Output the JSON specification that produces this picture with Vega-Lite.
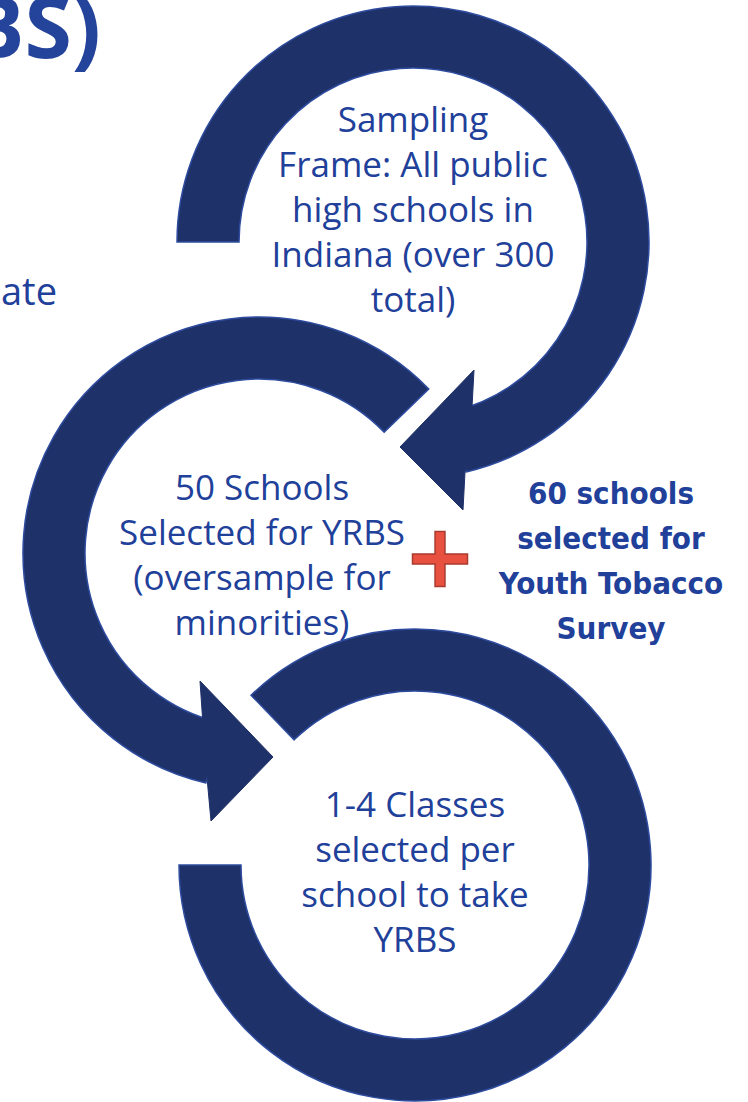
{
  "$schema": "https://vega.github.io/schema/vega-lite/v6.json",
  "width": 748,
  "height": 1102,
  "autosize": "none",
  "padding": 0,
  "background": "white",
  "config": {"view": {"stroke": null}},
  "datasets": {
    "rings": [
      {"ring": "top", "x": 413, "y": 242, "start": -90, "end": 167},
      {"ring": "middle", "x": 259, "y": 553, "start": 193, "end": 406},
      {"ring": "bottom", "x": 415, "y": 865, "start": -44, "end": 270}
    ],
    "heads": [
      {"arrow": "top", "i": 0, "x": 474, "y": 370},
      {"arrow": "top", "i": 1, "x": 400, "y": 447},
      {"arrow": "top", "i": 2, "x": 463, "y": 510},
      {"arrow": "top", "i": 3, "x": 465, "y": 472},
      {"arrow": "top", "i": 4, "x": 472, "y": 407},
      {"arrow": "top", "i": 5, "x": 474, "y": 370},
      {"arrow": "middle", "i": 0, "x": 200, "y": 681},
      {"arrow": "middle", "i": 1, "x": 273, "y": 757},
      {"arrow": "middle", "i": 2, "x": 211, "y": 821},
      {"arrow": "middle", "i": 3, "x": 207.5, "y": 783},
      {"arrow": "middle", "i": 4, "x": 202.5, "y": 717.5},
      {"arrow": "middle", "i": 5, "x": 200, "y": 681}
    ],
    "labels": [
      {"x": 413, "y": 132, "text": "Sampling\nFrame: All public\nhigh schools in\nIndiana (over 300\ntotal)"},
      {"x": 262, "y": 500, "text": "50 Schools\nSelected for YRBS\n(oversample for\nminorities)"},
      {"x": 415, "y": 817, "text": "1-4 Classes\nselected per\nschool to take\nYRBS"}
    ],
    "side": [
      {"x": 611, "y": 504, "text": "60 schools\nselected for\nYouth Tobacco\nSurvey"}
    ],
    "title": [{"x": 101, "y": 58, "text": "(YRBS)"}],
    "edge": [{"x": 57, "y": 305, "text": "ate"}],
    "plus": [{"x": 440, "y": 559, "sign": "plus"}]
  },
  "encoding": {
    "x": {"field": "x", "type": "quantitative", "axis": null, "scale": {"domain": [0, 748], "nice": false, "zero": false}},
    "y": {"field": "y", "type": "quantitative", "axis": null, "scale": {"domain": [0, 1102], "nice": false, "zero": false, "reverse": true}}
  },
  "layer": [
    {
      "data": {"name": "rings"},
      "mark": {"type": "arc", "radius": 236, "radius2": 174, "fill": "#1F3169", "stroke": "#2E4C9F", "strokeWidth": 1.5},
      "encoding": {
        "theta": {"field": "start", "type": "quantitative", "stack": null, "scale": {"domain": [0, 360], "range": [0, 6.283185307179586], "zero": false, "nice": false}},
        "theta2": {"field": "end"}
      }
    },
    {
      "data": {"name": "heads"},
      "mark": {"type": "line", "fill": "#1F3169", "stroke": "#1F3169", "strokeWidth": 1, "interpolate": "linear"},
      "encoding": {
        "detail": {"field": "arrow"},
        "order": {"field": "i", "type": "quantitative"}
      }
    },
    {
      "data": {"name": "labels"},
      "mark": {"type": "text", "align": "center", "baseline": "alphabetic", "lineBreak": "\n", "lineHeight": 45, "font": "Open Sans", "fontSize": 35, "color": "#21409A"},
      "encoding": {"text": {"field": "text"}}
    },
    {
      "data": {"name": "side"},
      "mark": {"type": "text", "align": "center", "baseline": "alphabetic", "lineBreak": "\n", "lineHeight": 45, "font": "DejaVu Sans Condensed", "fontWeight": "bold", "fontSize": 31, "color": "#21409A"},
      "encoding": {"text": {"field": "text"}}
    },
    {
      "data": {"name": "title"},
      "mark": {"type": "text", "align": "right", "baseline": "alphabetic", "font": "Open Sans", "fontWeight": "bold", "fontSize": 86, "color": "#24439B"},
      "encoding": {"text": {"field": "text"}}
    },
    {
      "data": {"name": "edge"},
      "mark": {"type": "text", "align": "right", "baseline": "alphabetic", "font": "Open Sans", "fontSize": 38, "color": "#21409A"},
      "encoding": {"text": {"field": "text"}}
    },
    {
      "data": {"name": "plus"},
      "mark": {"type": "point", "filled": true, "shape": "M-0.18,-1H0.18V-0.18H1V0.18H0.18V1H-0.18V0.18H-1V-0.18H-0.18Z", "size": 3025, "fill": "#E8513F", "stroke": "#A93A2E", "strokeWidth": 1.5, "opacity": 1},
      "encoding": {}
    }
  ]
}
